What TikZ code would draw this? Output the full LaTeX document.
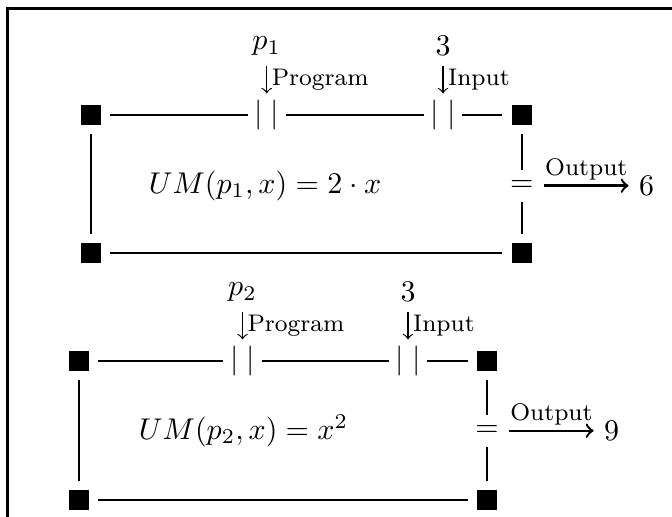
\documentclass[tikz,border=0pt]{standalone}
\usepackage{amsmath}
\usetikzlibrary{positioning}

\begin{document}
\begin{tikzpicture}[x=0.3333pt,y=-0.3333pt,
  corner/.style={fill,inner sep=0pt,minimum size=6.7pt,outer sep=3.1pt},
  gate/.style={inner xsep=2pt,inner ysep=2pt},
  wire/.style={thick},
  feed/.style={->},
  outarrow/.style={thick,->},
  lab/.style={font=\footnotesize}]
\useasboundingbox (0,0) rectangle (672,517);
\draw[very thick] (7.5,540) |- (700,8.5);

% first machine
\node[corner] (tl1) at (90.7,115) {};
\node[corner] (tr1) at (521.7,115) {};
\node[corner] (bl1) at (90.7,253) {};
\node[corner] (br1) at (521.7,253) {};
\node[gate] (prog1) at (266.7,115) {$|\;|$};
\node[gate] (inp1) at (443,115) {$|\;|$};
\node (eq1) at (521.7,185.7) {$=$};
\node (um1) at (265,186) {$UM(p_1,x) = 2\cdot x$};
\node (p1) [above=9pt of prog1] {$p_1$};
\node (in1) [above=9pt of inp1] {$3$};
\node (out1) at (646.7,185.7) {$6$};
\draw[wire] (tl1) -- (prog1) -- (inp1) -- (tr1) -- (eq1) -- (br1) -- (bl1) -- (tl1);
\draw[feed] (p1) -- node[right,lab,inner sep=1.5pt] {Program} (prog1);
\draw[feed] (in1) -- node[right,lab,inner sep=1.5pt] {Input} (inp1);
\draw[outarrow] (eq1) -- node[above,lab,inner sep=1.5pt] {Output} (out1);

% second machine
\node[corner] (tl2) at (79,361) {};
\node[corner] (tr2) at (487,361) {};
\node[corner] (bl2) at (79,500) {};
\node[corner] (br2) at (487,500) {};
\node[gate] (prog2) at (242.5,361) {$|\;|$};
\node[gate] (inp2) at (408,361) {$|\;|$};
\node (eq2) at (487,430.7) {$=$};
\node (um2) at (243.5,431) {$UM(p_2,x) = x^2$};
\node (p2) [above=9pt of prog2] {$p_2$};
\node (in2) [above=9pt of inp2] {$3$};
\node (out2) at (611.7,430.7) {$9$};
\draw[wire] (tl2) -- (prog2) -- (inp2) -- (tr2) -- (eq2) -- (br2) -- (bl2) -- (tl2);
\draw[feed] (p2) -- node[right,lab,inner sep=1.5pt] {Program} (prog2);
\draw[feed] (in2) -- node[right,lab,inner sep=1.5pt] {Input} (inp2);
\draw[outarrow] (eq2) -- node[above,lab,inner sep=1.5pt] {Output} (out2);
\end{tikzpicture}
\end{document}
